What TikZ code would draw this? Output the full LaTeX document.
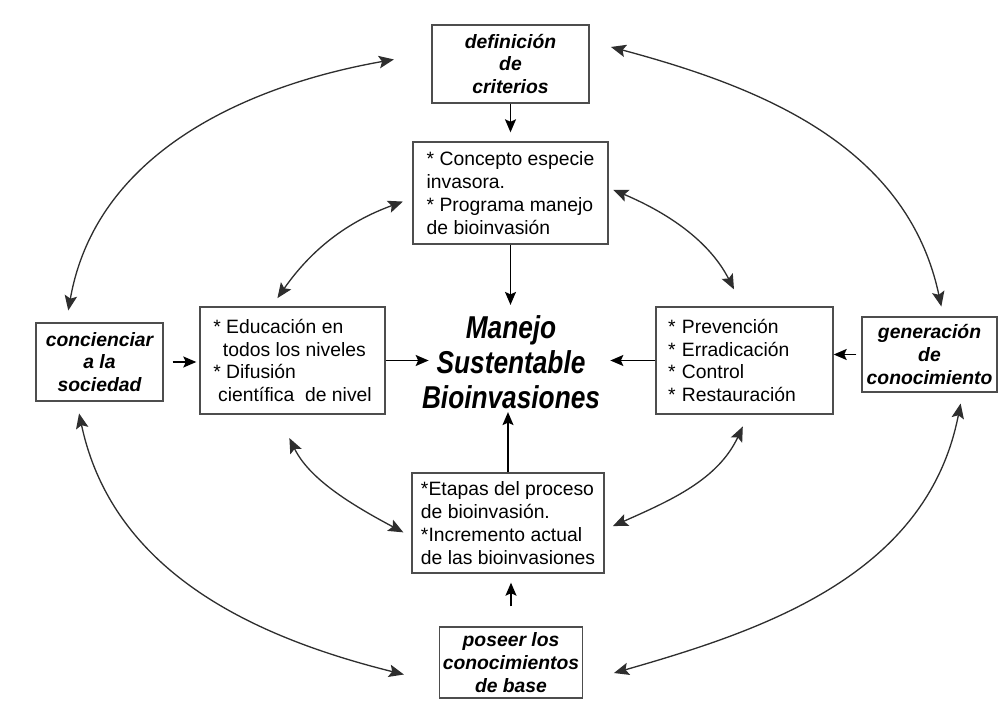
\documentclass[tikz,border=0pt]{standalone}
\usepackage{fontspec}
\setmainfont{Liberation Sans}
\newfontfamily\centrefont[FakeStretch=0.83]{Liberation Sans}
\usepackage{xcolor}
\usetikzlibrary{arrows.meta}
\definecolor{boxgray}{HTML}{4D4D4D}
\definecolor{arcgray}{HTML}{2E2E2E}

\begin{document}
\begin{tikzpicture}[
  x=0.02cm, y=0.02cm,
  every node/.style={font=\fontsize{11}{13}\selectfont, text=black},
  titlebox/.style={draw=boxgray, line width=0.8pt, fill=white, align=center, inner sep=0pt, font=\fontsize{11}{13}\selectfont\bfseries\itshape},
  listbox/.style={draw=boxgray, line width=0.8pt, fill=white, align=left, inner sep=0pt},
  oneway/.style={-{Stealth[length=0.26cm,width=0.22cm,inset=0.05cm]}, line width=0.9pt, black},
  twoway/.style={{Stealth[length=0.3cm,width=0.25cm,inset=0.06cm]}-{Stealth[length=0.3cm,width=0.25cm,inset=0.06cm]}, line width=0.75pt, arcgray}
]
\useasboundingbox (0,0) rectangle (999,700);

\node[titlebox, minimum width=3.14cm, minimum height=1.56cm] (def) at (510.5,636) {definición\\de\\criterios};
\node[listbox, minimum width=3.9cm, minimum height=2.04cm] (concepto) at (510.5,507) {{*} Concepto especie\\invasora.\\{*} Programa manejo\\de bioinvasión};
\node[listbox, minimum width=3.7cm, minimum height=2.14cm] (educ) at (292.5,339.5) {{*} Educación en\\\hspace*{0.5em}todos los niveles\\{*} Difusión\\\hspace*{0.25em}científica\ \ de nivel};
\node[listbox, text width=3.06cm, inner xsep=0.24cm, minimum height=2.14cm] (control) at (744.5,339.5) {{*} Prevención\\{*} Erradicación\\{*} Control\\{*} Restauración};
\node[titlebox, minimum width=2.54cm, minimum height=1.56cm] (conc) at (99.5,338) {concienciar\\a la\\sociedad};
\node[titlebox, minimum width=2.7cm, minimum height=1.5cm] (gen) at (929.5,345.5) {generación\\de\\conocimiento};
\node[listbox, minimum width=3.84cm, minimum height=2.0cm] (etapas) at (508,177) {{*}Etapas del proceso\\de bioinvasión.\\{*}Incremento actual\\de las bioinvasiones};
\node[titlebox, minimum width=2.86cm, minimum height=1.42cm] (poseer) at (511,37.5) {poseer los\\conocimientos\\de base};
\node[align=center, inner sep=0pt, font=\centrefont\fontsize{18}{20}\selectfont\bfseries\itshape] (manejo) at (511,338) {Manejo\\Sustentable\\Bioinvasiones};

\draw[oneway, shorten >=0.18cm] (def.south) -- (concepto.north);
\draw[oneway, shorten >=0.2cm] (concepto.south) -- (concepto.south |- manejo.north);
\draw[oneway, shorten >=-0.14cm] (educ.east) -- (educ.east -| manejo.west);
\draw[oneway, shorten >=0.2cm] (control.west) -- (control.west -| manejo.east);
\draw[oneway, shorten >=0.06cm] (etapas.north) -- (etapas.north |- manejo.south);
\draw[oneway, shorten <=0.4cm, shorten >=0.18cm] (poseer.north) -- (poseer.north |- etapas.south);
\draw[oneway, shorten <=0.18cm, shorten >=0.06cm] (conc.east) -- (conc.east -| educ.west);
\draw[oneway, shorten <=0.1cm] (gen.west) -- (gen.west -| control.east);

\draw[twoway, shorten <=0.24cm, shorten >=0.76cm] (conc.130) to[out=80, in=190] (def.172);
\draw[twoway, shorten <=0.2cm, shorten >=0.2cm] (educ.111) to[out=55, in=200] (concepto.183);
\draw[twoway, shorten <=0.44cm, shorten >=0.2cm] (def.16) to[out=-15, in=102] (gen.70);
\draw[twoway, shorten <=0.1cm, shorten >=0.38cm] (concepto.3) to[out=-23, in=117] (control.92);
\draw[twoway, shorten <=0.24cm, shorten >=0.72cm] (conc.240) to[out=-78, in=166] (poseer.196);
\draw[twoway, shorten <=0.52cm, shorten >=0.18cm] (educ.255) to[out=-64, in=152] (etapas.188);
\draw[twoway, shorten <=0.26cm, shorten >=0.18cm] (control.274) to[out=245, in=24] (etapas.356);
\draw[twoway, shorten <=0.22cm, shorten >=0.64cm] (gen.311) to[out=259, in=16] (poseer.345);
\end{tikzpicture}
\end{document}
